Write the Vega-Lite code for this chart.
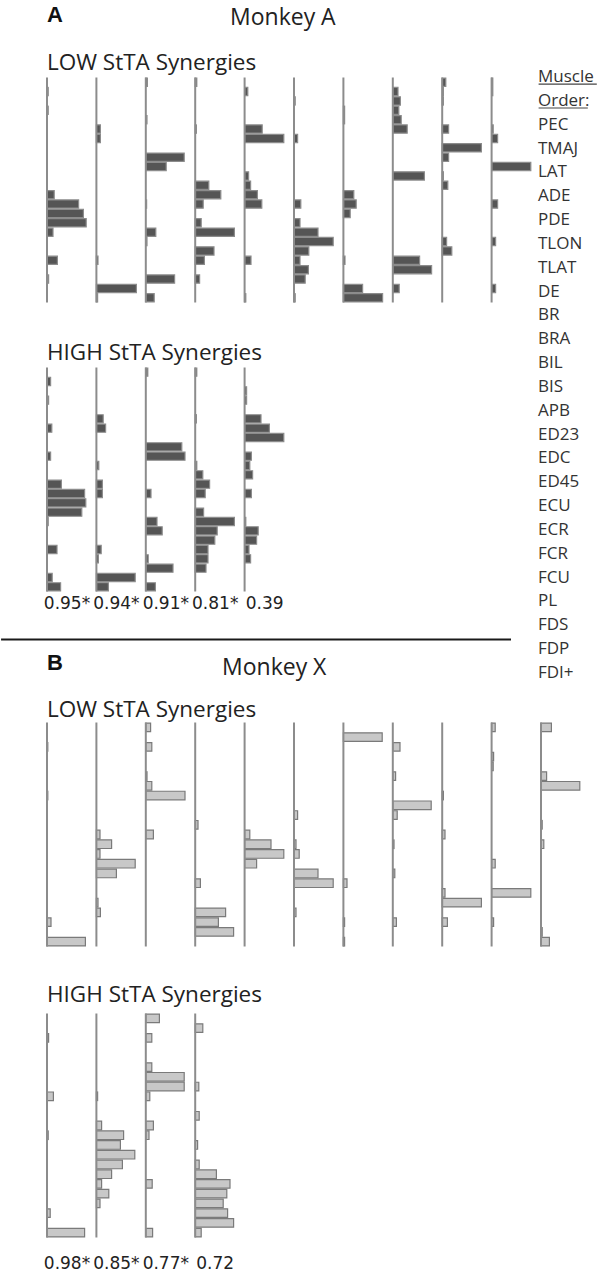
{
  "$schema": "https://vega.github.io/schema/vega-lite/v6.json",
  "background": "white",
  "padding": {"left": 0, "top": 3.5, "right": 0, "bottom": 0},
  "config": {
    "view": {"stroke": null},
    "title": {"font": "Open Sans", "fontWeight": "normal", "color": "#222222", "fontSize": 22.5, "anchor": "start", "frame": "group", "offset": 2}
  },
  "datasets": {
    "aLow": [
      {"syn": 1, "m": 2, "w": 0.03}, {"syn": 1, "m": 4, "w": 0.03}, {"syn": 1, "m": 13, "w": 0.18}, {"syn": 1, "m": 14, "w": 0.79}, {"syn": 1, "m": 15, "w": 0.91}, {"syn": 1, "m": 16, "w": 0.98}, {"syn": 1, "m": 17, "w": 0.15}, {"syn": 1, "m": 20, "w": 0.26}, {"syn": 1, "m": 22, "w": 0.04},
      {"syn": 2, "m": 6, "w": 0.10}, {"syn": 2, "m": 7, "w": 0.10}, {"syn": 2, "m": 20, "w": 0.04}, {"syn": 2, "m": 23, "w": 1.0}, {"syn": 2, "m": 24, "w": 0.03},
      {"syn": 3, "m": 1, "w": 0.04}, {"syn": 3, "m": 5, "w": 0.03}, {"syn": 3, "m": 9, "w": 0.96}, {"syn": 3, "m": 10, "w": 0.51}, {"syn": 3, "m": 14, "w": 0.02}, {"syn": 3, "m": 17, "w": 0.25}, {"syn": 3, "m": 18, "w": 0.03}, {"syn": 3, "m": 22, "w": 0.72}, {"syn": 3, "m": 24, "w": 0.21},
      {"syn": 4, "m": 1, "w": 0.04}, {"syn": 4, "m": 6, "w": 0.03}, {"syn": 4, "m": 12, "w": 0.34}, {"syn": 4, "m": 13, "w": 0.64}, {"syn": 4, "m": 14, "w": 0.20}, {"syn": 4, "m": 16, "w": 0.15}, {"syn": 4, "m": 17, "w": 0.98}, {"syn": 4, "m": 19, "w": 0.47}, {"syn": 4, "m": 20, "w": 0.23}, {"syn": 4, "m": 22, "w": 0.11},
      {"syn": 5, "m": 2, "w": 0.08}, {"syn": 5, "m": 6, "w": 0.44}, {"syn": 5, "m": 7, "w": 0.98}, {"syn": 5, "m": 11, "w": 0.10}, {"syn": 5, "m": 12, "w": 0.15}, {"syn": 5, "m": 13, "w": 0.32}, {"syn": 5, "m": 14, "w": 0.43}, {"syn": 5, "m": 20, "w": 0.16}, {"syn": 5, "m": 24, "w": 0.03},
      {"syn": 6, "m": 3, "w": 0.03}, {"syn": 6, "m": 7, "w": 0.09}, {"syn": 6, "m": 14, "w": 0.17}, {"syn": 6, "m": 16, "w": 0.15}, {"syn": 6, "m": 17, "w": 0.60}, {"syn": 6, "m": 18, "w": 0.98}, {"syn": 6, "m": 19, "w": 0.37}, {"syn": 6, "m": 20, "w": 0.15}, {"syn": 6, "m": 21, "w": 0.36}, {"syn": 6, "m": 22, "w": 0.28}, {"syn": 6, "m": 24, "w": 0.03},
      {"syn": 7, "m": 4, "w": 0.03}, {"syn": 7, "m": 5, "w": 0.03}, {"syn": 7, "m": 13, "w": 0.26}, {"syn": 7, "m": 14, "w": 0.32}, {"syn": 7, "m": 15, "w": 0.17}, {"syn": 7, "m": 20, "w": 0.04}, {"syn": 7, "m": 23, "w": 0.48}, {"syn": 7, "m": 24, "w": 0.98},
      {"syn": 8, "m": 2, "w": 0.13}, {"syn": 8, "m": 3, "w": 0.19}, {"syn": 8, "m": 4, "w": 0.15}, {"syn": 8, "m": 5, "w": 0.21}, {"syn": 8, "m": 6, "w": 0.36}, {"syn": 8, "m": 11, "w": 0.79}, {"syn": 8, "m": 20, "w": 0.67}, {"syn": 8, "m": 21, "w": 0.97}, {"syn": 8, "m": 23, "w": 0.16},
      {"syn": 9, "m": 1, "w": 0.09}, {"syn": 9, "m": 2, "w": 0.03}, {"syn": 9, "m": 3, "w": 0.03}, {"syn": 9, "m": 6, "w": 0.16}, {"syn": 9, "m": 8, "w": 0.98}, {"syn": 9, "m": 9, "w": 0.16}, {"syn": 9, "m": 11, "w": 0.03}, {"syn": 9, "m": 12, "w": 0.14}, {"syn": 9, "m": 18, "w": 0.11}, {"syn": 9, "m": 19, "w": 0.24},
      {"syn": 10, "m": 1, "w": 0.03}, {"syn": 10, "m": 2, "w": 0.03}, {"syn": 10, "m": 6, "w": 0.04}, {"syn": 10, "m": 7, "w": 0.15}, {"syn": 10, "m": 10, "w": 0.98}, {"syn": 10, "m": 14, "w": 0.15}, {"syn": 10, "m": 18, "w": 0.10}, {"syn": 10, "m": 23, "w": 0.10}
    ],
    "aHigh": [
      {"syn": "0.95*", "m": 2, "w": 0.09}, {"syn": "0.95*", "m": 4, "w": 0.04}, {"syn": "0.95*", "m": 7, "w": 0.12}, {"syn": "0.95*", "m": 10, "w": 0.09}, {"syn": "0.95*", "m": 13, "w": 0.36}, {"syn": "0.95*", "m": 14, "w": 0.94}, {"syn": "0.95*", "m": 15, "w": 0.97}, {"syn": "0.95*", "m": 16, "w": 0.87}, {"syn": "0.95*", "m": 17, "w": 0.03}, {"syn": "0.95*", "m": 20, "w": 0.25}, {"syn": "0.95*", "m": 23, "w": 0.13}, {"syn": "0.95*", "m": 24, "w": 0.34},
      {"syn": "0.94*", "m": 6, "w": 0.17}, {"syn": "0.94*", "m": 7, "w": 0.23}, {"syn": "0.94*", "m": 11, "w": 0.06}, {"syn": "0.94*", "m": 13, "w": 0.15}, {"syn": "0.94*", "m": 14, "w": 0.15}, {"syn": "0.94*", "m": 20, "w": 0.12}, {"syn": "0.94*", "m": 21, "w": 0.05}, {"syn": "0.94*", "m": 23, "w": 0.97}, {"syn": "0.94*", "m": 24, "w": 0.30},
      {"syn": "0.91*", "m": 1, "w": 0.05}, {"syn": "0.91*", "m": 9, "w": 0.90}, {"syn": "0.91*", "m": 10, "w": 0.98}, {"syn": "0.91*", "m": 14, "w": 0.13}, {"syn": "0.91*", "m": 17, "w": 0.28}, {"syn": "0.91*", "m": 18, "w": 0.41}, {"syn": "0.91*", "m": 21, "w": 0.06}, {"syn": "0.91*", "m": 22, "w": 0.68}, {"syn": "0.91*", "m": 24, "w": 0.24},
      {"syn": "0.81*", "m": 1, "w": 0.04}, {"syn": "0.81*", "m": 6, "w": 0.03}, {"syn": "0.81*", "m": 11, "w": 0.04}, {"syn": "0.81*", "m": 12, "w": 0.19}, {"syn": "0.81*", "m": 13, "w": 0.36}, {"syn": "0.81*", "m": 14, "w": 0.25}, {"syn": "0.81*", "m": 16, "w": 0.21}, {"syn": "0.81*", "m": 17, "w": 0.98}, {"syn": "0.81*", "m": 18, "w": 0.55}, {"syn": "0.81*", "m": 19, "w": 0.49}, {"syn": "0.81*", "m": 20, "w": 0.32}, {"syn": "0.81*", "m": 21, "w": 0.32}, {"syn": "0.81*", "m": 22, "w": 0.27},
      {"syn": "0.39", "m": 3, "w": 0.05}, {"syn": "0.39", "m": 4, "w": 0.05}, {"syn": "0.39", "m": 6, "w": 0.41}, {"syn": "0.39", "m": 7, "w": 0.62}, {"syn": "0.39", "m": 8, "w": 0.98}, {"syn": "0.39", "m": 10, "w": 0.17}, {"syn": "0.39", "m": 11, "w": 0.13}, {"syn": "0.39", "m": 12, "w": 0.20}, {"syn": "0.39", "m": 14, "w": 0.17}, {"syn": "0.39", "m": 17, "w": 0.03}, {"syn": "0.39", "m": 18, "w": 0.34}, {"syn": "0.39", "m": 19, "w": 0.30}, {"syn": "0.39", "m": 20, "w": 0.11}, {"syn": "0.39", "m": 21, "w": 0.15}
    ],
    "xLow": [
      {"syn": 1, "m": 3, "w": 0.02}, {"syn": 1, "m": 8, "w": 0.02}, {"syn": 1, "m": 21, "w": 0.10}, {"syn": 1, "m": 23, "w": 0.96},
      {"syn": 2, "m": 12, "w": 0.09}, {"syn": 2, "m": 13, "w": 0.38}, {"syn": 2, "m": 14, "w": 0.09}, {"syn": 2, "m": 15, "w": 0.97}, {"syn": 2, "m": 16, "w": 0.50}, {"syn": 2, "m": 19, "w": 0.04}, {"syn": 2, "m": 20, "w": 0.10},
      {"syn": 3, "m": 1, "w": 0.12}, {"syn": 3, "m": 3, "w": 0.15}, {"syn": 3, "m": 6, "w": 0.03}, {"syn": 3, "m": 7, "w": 0.15}, {"syn": 3, "m": 8, "w": 0.98}, {"syn": 3, "m": 12, "w": 0.19},
      {"syn": 4, "m": 11, "w": 0.07}, {"syn": 4, "m": 17, "w": 0.13}, {"syn": 4, "m": 20, "w": 0.76}, {"syn": 4, "m": 21, "w": 0.58}, {"syn": 4, "m": 22, "w": 0.96},
      {"syn": 5, "m": 12, "w": 0.13}, {"syn": 5, "m": 13, "w": 0.66}, {"syn": 5, "m": 14, "w": 0.98}, {"syn": 5, "m": 15, "w": 0.30},
      {"syn": 6, "m": 10, "w": 0.09}, {"syn": 6, "m": 13, "w": 0.05}, {"syn": 6, "m": 14, "w": 0.13}, {"syn": 6, "m": 16, "w": 0.60}, {"syn": 6, "m": 17, "w": 0.98}, {"syn": 6, "m": 20, "w": 0.05},
      {"syn": 7, "m": 2, "w": 0.97}, {"syn": 7, "m": 17, "w": 0.09}, {"syn": 7, "m": 21, "w": 0.03}, {"syn": 7, "m": 23, "w": 0.03},
      {"syn": 8, "m": 3, "w": 0.18}, {"syn": 8, "m": 6, "w": 0.07}, {"syn": 8, "m": 9, "w": 0.96}, {"syn": 8, "m": 10, "w": 0.11}, {"syn": 8, "m": 13, "w": 0.03}, {"syn": 8, "m": 16, "w": 0.05}, {"syn": 8, "m": 21, "w": 0.09},
      {"syn": 9, "m": 8, "w": 0.03}, {"syn": 9, "m": 12, "w": 0.07}, {"syn": 9, "m": 18, "w": 0.07}, {"syn": 9, "m": 19, "w": 0.98}, {"syn": 9, "m": 21, "w": 0.13},
      {"syn": 10, "m": 1, "w": 0.09}, {"syn": 10, "m": 4, "w": 0.05}, {"syn": 10, "m": 5, "w": 0.04}, {"syn": 10, "m": 15, "w": 0.09}, {"syn": 10, "m": 18, "w": 0.98}, {"syn": 10, "m": 21, "w": 0.05},
      {"syn": 11, "m": 1, "w": 0.26}, {"syn": 11, "m": 6, "w": 0.14}, {"syn": 11, "m": 7, "w": 0.97}, {"syn": 11, "m": 11, "w": 0.03}, {"syn": 11, "m": 13, "w": 0.07}, {"syn": 11, "m": 22, "w": 0.03}, {"syn": 11, "m": 23, "w": 0.21}
    ],
    "xHigh": [
      {"syn": "0.98*", "m": 3, "w": 0.04}, {"syn": "0.98*", "m": 9, "w": 0.16}, {"syn": "0.98*", "m": 13, "w": 0.03}, {"syn": "0.98*", "m": 21, "w": 0.08}, {"syn": "0.98*", "m": 23, "w": 0.94},
      {"syn": "0.85*", "m": 9, "w": 0.03}, {"syn": "0.85*", "m": 12, "w": 0.13}, {"syn": "0.85*", "m": 13, "w": 0.68}, {"syn": "0.85*", "m": 14, "w": 0.60}, {"syn": "0.85*", "m": 15, "w": 0.96}, {"syn": "0.85*", "m": 16, "w": 0.65}, {"syn": "0.85*", "m": 17, "w": 0.38}, {"syn": "0.85*", "m": 18, "w": 0.13}, {"syn": "0.85*", "m": 19, "w": 0.31}, {"syn": "0.85*", "m": 20, "w": 0.09},
      {"syn": "0.77*", "m": 1, "w": 0.34}, {"syn": "0.77*", "m": 3, "w": 0.15}, {"syn": "0.77*", "m": 6, "w": 0.15}, {"syn": "0.77*", "m": 7, "w": 0.96}, {"syn": "0.77*", "m": 8, "w": 0.96}, {"syn": "0.77*", "m": 9, "w": 0.10}, {"syn": "0.77*", "m": 12, "w": 0.19}, {"syn": "0.77*", "m": 13, "w": 0.08}, {"syn": "0.77*", "m": 18, "w": 0.16}, {"syn": "0.77*", "m": 23, "w": 0.17},
      {"syn": "0.72", "m": 2, "w": 0.19}, {"syn": "0.72", "m": 8, "w": 0.09}, {"syn": "0.72", "m": 11, "w": 0.10}, {"syn": "0.72", "m": 14, "w": 0.06}, {"syn": "0.72", "m": 16, "w": 0.10}, {"syn": "0.72", "m": 17, "w": 0.53}, {"syn": "0.72", "m": 18, "w": 0.87}, {"syn": "0.72", "m": 19, "w": 0.79}, {"syn": "0.72", "m": 20, "w": 0.70}, {"syn": "0.72", "m": 21, "w": 0.81}, {"syn": "0.72", "m": 22, "w": 0.96}, {"syn": "0.72", "m": 23, "w": 0.15}
    ],
    "muscles": [
      {"label": "Muscle", "kind": "heading"}, {"label": "Order:", "kind": "heading"},
      {"label": "PEC", "kind": "muscle"}, {"label": "TMAJ", "kind": "muscle"}, {"label": "LAT", "kind": "muscle"}, {"label": "ADE", "kind": "muscle"}, {"label": "PDE", "kind": "muscle"}, {"label": "TLON", "kind": "muscle"}, {"label": "TLAT", "kind": "muscle"}, {"label": "DE", "kind": "muscle"}, {"label": "BR", "kind": "muscle"}, {"label": "BRA", "kind": "muscle"}, {"label": "BIL", "kind": "muscle"}, {"label": "BIS", "kind": "muscle"}, {"label": "APB", "kind": "muscle"}, {"label": "ED23", "kind": "muscle"}, {"label": "EDC", "kind": "muscle"}, {"label": "ED45", "kind": "muscle"}, {"label": "ECU", "kind": "muscle"}, {"label": "ECR", "kind": "muscle"}, {"label": "FCR", "kind": "muscle"}, {"label": "FCU", "kind": "muscle"}, {"label": "PL", "kind": "muscle"}, {"label": "FDS", "kind": "muscle"}, {"label": "FDP", "kind": "muscle"}, {"label": "FDI+", "kind": "muscle"}
    ]
  },
  "bounds": "flush",
  "spacing": 491,
  "hconcat": [
    {
      "spacing": 0,
      "vconcat": [
        {
          "title": {"text": "A", "font": "Liberation Sans", "fontWeight": "bold", "fontSize": 22, "color": "#111111", "offset": 0, "dy": 20},
          "vconcat": [
            {
              "title": {"text": "Monkey A", "fontSize": 23, "dx": 183, "offset": 22},
              "spacing": 38,
              "vconcat": [
                {
                  "title": {"text": "LOW StTA Synergies"},
                  "data": {"name": "aLow"},
                  "facet": {"column": {"field": "syn", "type": "ordinal", "header": {"labels": false, "title": null}}},
                  "spacing": 9.4,
                  "bounds": "flush",
                  "spec": {
                    "width": 40, "height": 225,
                    "layer": [
                      {"mark": {"type": "bar", "fill": "#555555", "stroke": "#8c8c8c", "strokeWidth": 1.2},
                       "encoding": {
                         "y": {"field": "m", "type": "ordinal", "scale": {"domain": [1,2,3,4,5,6,7,8,9,10,11,12,13,14,15,16,17,18,19,20,21,22,23,24], "paddingInner": 0.12, "paddingOuter": 0.06}, "axis": null},
                         "x": {"field": "w", "type": "quantitative", "scale": {"domain": [0, 1], "nice": false}, "axis": null}}},
                      {"transform": [{"aggregate": [{"op": "count", "as": "n"}], "groupby": ["syn"]}],
                       "mark": {"type": "rule", "color": "#8c8c8c", "strokeWidth": 2},
                       "encoding": {"x": {"datum": 0, "type": "quantitative"}}}
                    ]
                  }
                },
                {
                  "title": {"text": "HIGH StTA Synergies"},
                  "data": {"name": "aHigh"},
                  "facet": {"column": {"field": "syn", "type": "nominal", "sort": ["0.95*", "0.94*", "0.91*", "0.81*", "0.39"], "header": {"title": null, "labelOrient": "bottom", "labelFont": "DejaVu Sans", "labelFontSize": 17, "labelColor": "#222222", "labelPadding": 4}}},
                  "spacing": 9.4,
                  "bounds": "flush",
                  "spec": {
                    "width": 40, "height": 224,
                    "layer": [
                      {"mark": {"type": "bar", "fill": "#555555", "stroke": "#8c8c8c", "strokeWidth": 1.2},
                       "encoding": {
                         "y": {"field": "m", "type": "ordinal", "scale": {"domain": [1,2,3,4,5,6,7,8,9,10,11,12,13,14,15,16,17,18,19,20,21,22,23,24], "paddingInner": 0.12, "paddingOuter": 0.06}, "axis": null},
                         "x": {"field": "w", "type": "quantitative", "scale": {"domain": [0, 1], "nice": false}, "axis": null}}},
                      {"transform": [{"aggregate": [{"op": "count", "as": "n"}], "groupby": ["syn"]}],
                       "mark": {"type": "rule", "color": "#8c8c8c", "strokeWidth": 2},
                       "encoding": {"x": {"datum": 0, "type": "quantitative"}}}
                    ]
                  }
                }
              ]
            }
          ]
        },
        {
          "data": {"values": [{"line": "divider"}]},
          "width": 464, "height": 40,
          "mark": {"type": "rule", "color": "#1a1a1a", "strokeWidth": 1.8},
          "encoding": {
            "x": {"datum": -0.099, "type": "quantitative", "scale": {"domain": [0, 1], "nice": false, "zero": false}, "axis": null},
            "x2": {"datum": 1},
            "y": {"datum": 0.3, "type": "quantitative", "scale": {"domain": [0, 1]}, "axis": null}
          }
        },
        {
          "title": {"text": "B", "font": "Liberation Sans", "fontWeight": "bold", "fontSize": 22, "color": "#111111", "offset": 0, "dy": 18},
          "vconcat": [
            {
              "title": {"text": "Monkey X", "fontSize": 23, "dx": 175, "offset": 19},
              "spacing": 36,
              "vconcat": [
                {
                  "title": {"text": "LOW StTA Synergies", "offset": 0},
                  "data": {"name": "xLow"},
                  "facet": {"column": {"field": "syn", "type": "ordinal", "header": {"labels": false, "title": null}}},
                  "spacing": 9.4,
                  "bounds": "flush",
                  "spec": {
                    "width": 40, "height": 224,
                    "layer": [
                      {"mark": {"type": "bar", "fill": "#c8c8c8", "stroke": "#7a7a7a", "strokeWidth": 1.2},
                       "encoding": {
                         "y": {"field": "m", "type": "ordinal", "scale": {"domain": [1,2,3,4,5,6,7,8,9,10,11,12,13,14,15,16,17,18,19,20,21,22,23], "paddingInner": 0.12, "paddingOuter": 0.06}, "axis": null},
                         "x": {"field": "w", "type": "quantitative", "scale": {"domain": [0, 1], "nice": false}, "axis": null}}},
                      {"transform": [{"aggregate": [{"op": "count", "as": "n"}], "groupby": ["syn"]}],
                       "mark": {"type": "rule", "color": "#8c8c8c", "strokeWidth": 2},
                       "encoding": {"x": {"datum": 0, "type": "quantitative"}}}
                    ]
                  }
                },
                {
                  "title": {"text": "HIGH StTA Synergies", "offset": 6},
                  "data": {"name": "xHigh"},
                  "facet": {"column": {"field": "syn", "type": "nominal", "sort": ["0.98*", "0.85*", "0.77*", "0.72"], "header": {"title": null, "labelOrient": "bottom", "labelFont": "DejaVu Sans", "labelFontSize": 17, "labelColor": "#222222", "labelPadding": 18}}},
                  "spacing": 9.4,
                  "bounds": "flush",
                  "spec": {
                    "width": 40, "height": 224,
                    "layer": [
                      {"mark": {"type": "bar", "fill": "#c8c8c8", "stroke": "#7a7a7a", "strokeWidth": 1.2},
                       "encoding": {
                         "y": {"field": "m", "type": "ordinal", "scale": {"domain": [1,2,3,4,5,6,7,8,9,10,11,12,13,14,15,16,17,18,19,20,21,22,23], "paddingInner": 0.12, "paddingOuter": 0.06}, "axis": null},
                         "x": {"field": "w", "type": "quantitative", "scale": {"domain": [0, 1], "nice": false}, "axis": null}}},
                      {"transform": [{"aggregate": [{"op": "count", "as": "n"}], "groupby": ["syn"]}],
                       "mark": {"type": "rule", "color": "#8c8c8c", "strokeWidth": 2},
                       "encoding": {"x": {"datum": 0, "type": "quantitative"}}}
                    ]
                  }
                }
              ]
            }
          ]
        }
      ]
    },
    {
      "data": {"name": "muscles"},
      "width": 60, "height": 607,
      "layer": [
        {"mark": {"type": "text", "align": "left", "baseline": "middle", "font": "Open Sans", "fontSize": 17, "color": "#333333"},
         "encoding": {
           "y": {"field": "label", "type": "ordinal", "sort": null, "axis": null, "scale": {"paddingInner": 0, "paddingOuter": 0, "range": [-12.4, 607.4]}},
           "x": {"datum": 0, "type": "quantitative", "scale": {"domain": [0, 1], "nice": false}, "axis": null},
           "text": {"field": "label"}}},
        {"transform": [{"filter": "datum.label == 'Muscle'"}],
         "mark": {"type": "rule", "color": "#444444", "strokeWidth": 1.2},
         "encoding": {
           "y": {"field": "label", "type": "ordinal", "sort": null, "bandPosition": 0.8},
           "x": {"datum": 0.01, "type": "quantitative"},
           "x2": {"datum": 0.98}}},
        {"transform": [{"filter": "datum.label == 'Order:'"}],
         "mark": {"type": "rule", "color": "#444444", "strokeWidth": 1.2},
         "encoding": {
           "y": {"field": "label", "type": "ordinal", "sort": null, "bandPosition": 0.8},
           "x": {"datum": 0.01, "type": "quantitative"},
           "x2": {"datum": 0.83}}}
      ]
    }
  ]
}
